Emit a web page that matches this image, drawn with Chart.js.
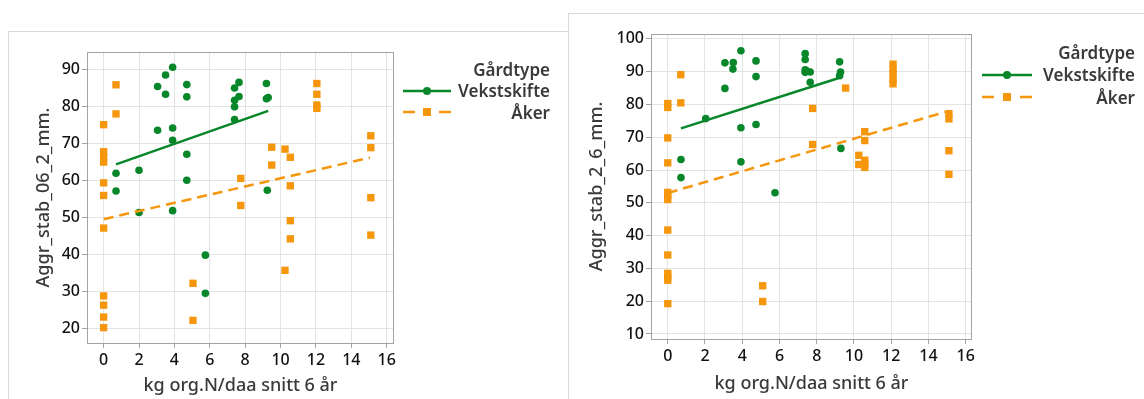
<!DOCTYPE html>
<html lang="no">
<head>
<meta charset="UTF-8">
<title>Aggregatstabilitet mot organisk N</title>
<script src="https://cdn.jsdelivr.net/npm/chart.js"></script>
<style>
    html, body { margin: 0; padding: 0; background: #fff; }
    body { width: 1144px; height: 399px; position: relative; overflow: hidden; }
    .panel { position: absolute; border-top: 1px solid #d9d9d9; border-left: 1px solid #d9d9d9; box-sizing: border-box; }
    #panelA { left: 8px; top: 31px; width: 561px; height: 368px; }
    #panelB { left: 568px; top: 13px; width: 576px; height: 386px; }
    canvas { position: absolute; left: 0; top: 0; }
</style>
</head>
<body>
<div class="panel" id="panelA"></div>
<div class="panel" id="panelB"></div>
<canvas id="chart06"></canvas>
<canvas id="chart26"></canvas>

<script>
// Aggr_stab_06_2_mm.
const vekstX06 = [0.7, 0.7, 2.0, 2.0, 3.05, 3.5, 3.5, 3.9, 3.05, 3.9, 3.9, 3.9, 4.7, 4.7, 4.7, 4.7,
    5.75, 5.75, 7.4, 7.65, 7.4, 7.65, 7.4, 7.4, 9.2, 9.2, 9.3, 9.25];
const vekstY06 = [62.0, 57.2, 62.8, 51.4, 85.4, 88.5, 83.3, 90.6, 73.6, 74.2, 70.9, 51.9, 85.9, 82.6, 67.1, 60.1,
    39.9, 29.6, 85.0, 86.5, 81.7, 82.7, 79.9, 76.5, 86.2, 82.1, 82.4, 57.4];
const akerX06 = [0, 0, 0, 0, 0, 0, 0, 0, 0, 0, 0, 0.7, 0.7, 5.05, 5.05, 7.75, 7.75, 9.5, 9.5,
    10.25, 10.25, 10.55, 10.55, 10.55, 10.55, 12.05, 12.05, 12.05, 12.05, 15.1, 15.1, 15.1, 15.1];
const akerY06 = [75.1, 67.8, 66.4, 65.0, 59.4, 56.0, 47.2, 28.9, 26.4, 23.2, 20.35, 85.85, 78.0, 32.3, 22.3, 60.6, 53.3, 69.0, 64.2,
    68.5, 35.8, 66.3, 58.6, 49.2, 44.3, 86.2, 83.3, 80.4, 79.5, 72.1, 68.9, 55.4, 45.3];
const vekstFitX06 = [0.7, 9.3];
const vekstFitY06 = [64.4, 78.8];
const akerFitX06 = [0, 15.05];
const akerFitY06 = [49.6, 66.2];
const yTicks06 = [20, 30, 40, 50, 60, 70, 80, 90];

// Aggr_stab_2_6_mm.
const vekstX26 = [0.71, 0.71, 2.04, 3.07, 3.07, 3.52, 3.5, 3.93, 3.93, 3.93, 4.74, 4.74, 4.74, 5.76,
    7.38, 7.38, 7.38, 7.38, 7.45, 7.65, 7.65, 9.23, 9.28, 9.23, 9.3];
const vekstY26 = [63.2, 57.7, 75.7, 92.7, 84.9, 92.8, 90.8, 96.4, 72.9, 62.5, 93.3, 88.5, 73.9, 53.1,
    95.5, 93.7, 90.6, 89.8, 90.3, 89.9, 86.8, 93.0, 89.9, 88.8, 66.6];
const akerX26 = [0, 0, 0, 0, 0, 0, 0, 0, 0, 0, 0, 0, 0, 0.7, 0.7, 5.1, 5.1, 7.78, 7.78, 9.55,
    10.26, 10.26, 10.58, 10.58, 10.58, 10.58, 10.58, 12.1, 12.1, 12.1, 12.1, 12.1, 15.1, 15.1, 15.1, 15.1];
const akerY26 = [80.3, 79.1, 69.8, 62.2, 53.2, 52.2, 51.0, 41.7, 34.1, 28.5, 27.4, 26.4, 19.25, 89.1, 80.5, 24.7, 19.9, 78.8, 67.8, 85.0,
    64.5, 61.7, 71.7, 69.0, 63.0, 61.9, 60.8, 92.3, 90.8, 89.3, 87.8, 86.3, 77.2, 75.6, 65.9, 58.7];
const vekstFitX26 = [0.71, 9.15];
const vekstFitY26 = [72.7, 88.0];
const akerFitX26 = [0, 14.9];
const akerFitY26 = [53.0, 77.7];
const yTicks26 = [10, 20, 30, 40, 50, 60, 70, 80, 90, 100];

const xTicks = [0, 2, 4, 6, 8, 10, 12, 14, 16];
const groups = ['Vekstskifte', 'Åker'];
const legendTitle = 'Gårdtype';
const xTitle = 'kg org.N/daa snitt 6 år';

const GREEN = '#08862a';
const ORANGE = '#f5960c';
const FONT = '"Noto Sans", "Open Sans", sans-serif';

const W = 1144, H = 399;

function pts(xs, ys) {
    return xs.map((x, i) => ({ x: x, y: ys[i] }));
}

// plot frame, axis titles and the legend on the right
const decor = {
    id: 'decor',
    afterDraw(chart, args, o) {
        const ctx = chart.ctx;
        const a = chart.chartArea;
        ctx.save();
        ctx.strokeStyle = '#a3a3a3';
        ctx.lineWidth = 1;
        ctx.strokeRect(Math.round(a.left) + 0.5, Math.round(a.top) + 0.5,
            Math.round(a.right - a.left) - 1, Math.round(a.bottom - a.top));

        ctx.fillStyle = '#3a3a3a';
        ctx.font = '500 18px ' + FONT;
        ctx.textAlign = 'center';
        ctx.textBaseline = 'middle';
        ctx.fillText(xTitle, (a.left + a.right) / 2, o.xTitleY);
        ctx.save();
        ctx.translate(o.yTitleX, (a.top + a.bottom) / 2);
        ctx.rotate(-Math.PI / 2);
        ctx.fillText(o.yTitle, 0, 0);
        ctx.restore();

        // legend
        const lg = o.legend;
        ctx.font = '600 17px ' + FONT;
        ctx.textAlign = 'right';
        ctx.fillText(legendTitle, lg.textRight, lg.y0);
        ctx.fillText(groups[0], lg.textRight, lg.y0 + lg.gap);
        ctx.fillText(groups[1], lg.textRight, lg.y0 + 2 * lg.gap + 1);

        const mid = (lg.lineLeft + lg.lineRight) / 2;
        let y = lg.y0 + lg.gap - 1;
        ctx.strokeStyle = GREEN;
        ctx.lineWidth = 2.5;
        ctx.beginPath();
        ctx.moveTo(lg.lineLeft, y);
        ctx.lineTo(lg.lineRight, y);
        ctx.stroke();
        ctx.fillStyle = GREEN;
        ctx.beginPath();
        ctx.arc(mid, y, 4, 0, Math.PI * 2);
        ctx.fill();

        y = lg.y0 + 2 * lg.gap - 1;
        ctx.strokeStyle = ORANGE;
        ctx.beginPath();
        ctx.moveTo(lg.lineLeft, y);
        ctx.lineTo(lg.lineLeft + 12, y);
        ctx.moveTo(lg.lineRight - 12, y);
        ctx.lineTo(lg.lineRight, y);
        ctx.stroke();
        ctx.fillStyle = ORANGE;
        ctx.fillRect(mid - 4, y - 4, 8, 8);
        ctx.restore();
    }
};

function makeChart(id, s) {
    const canvas = document.getElementById(id);
    canvas.width = W;
    canvas.height = H;
    return new Chart(canvas, {
        type: 'scatter',
        data: {
            datasets: [
                {
                    label: groups[0] + ' fit', data: pts(s.vfx, s.vfy), showLine: true,
                    borderColor: GREEN, borderWidth: 2.5, pointRadius: 0, order: 0
                },
                {
                    label: groups[1] + ' fit', data: pts(s.afx, s.afy), showLine: true,
                    borderColor: ORANGE, borderWidth: 2.5, borderDash: [10, 6], pointRadius: 0, order: 1
                },
                {
                    label: groups[0], data: pts(s.vx, s.vy), pointStyle: 'circle',
                    pointRadius: 3.8, backgroundColor: GREEN, borderWidth: 0, order: 2
                },
                {
                    label: groups[1], data: pts(s.ax, s.ay), pointStyle: 'rect',
                    pointRadius: 5.2, backgroundColor: ORANGE, borderWidth: 0, order: 3
                }
            ]
        },
        options: {
            responsive: false,
            animation: false,
            events: [],
            layout: { autoPadding: false, padding: s.padding },
            plugins: {
                legend: { display: false },
                tooltip: { enabled: false },
                decor: s.decor
            },
            scales: {
                x: {
                    type: 'linear', min: s.xMin, max: s.xMax,
                    afterBuildTicks: sc => { sc.ticks = xTicks.map(v => ({ value: v })); },
                    afterFit: sc => { sc.height = 30; },
                    grid: { color: '#e4e4e4', tickColor: '#a3a3a3', tickLength: 5 },
                    border: { display: false },
                    ticks: { color: '#111', padding: 3, font: { family: FONT, size: 16, weight: '500' } }
                },
                y: {
                    type: 'linear', min: s.yMin, max: s.yMax,
                    afterBuildTicks: sc => { sc.ticks = s.yTicks.map(v => ({ value: v })); },
                    afterFit: sc => { sc.width = 50; },
                    grid: { color: '#e4e4e4', tickColor: '#a3a3a3', tickLength: 5 },
                    border: { display: false },
                    ticks: { color: '#111', padding: 2, font: { family: FONT, size: 16, weight: '500' } }
                }
            }
        },
        plugins: [decor]
    });
}

makeChart('chart06', {
    vx: vekstX06, vy: vekstY06, ax: akerX06, ay: akerY06,
    vfx: vekstFitX06, vfy: vekstFitY06, afx: akerFitX06, afy: akerFitY06,
    yTicks: yTicks06, xMin: -0.94, xMax: 16.41, yMin: 16.2, yMax: 94.7,
    padding: { left: 37, top: 52, right: W - 394, bottom: H - 343 - 30 },
    decor: {
        yTitle: 'Aggr_stab_06_2_mm.', yTitleX: 44, xTitleY: 386,
        legend: { textRight: 550, y0: 71, gap: 21, lineLeft: 403, lineRight: 451 }
    }
});

makeChart('chart26', {
    vx: vekstX26, vy: vekstY26, ax: akerX26, ay: akerY26,
    vfx: vekstFitX26, vfy: vekstFitY26, afx: akerFitX26, afy: akerFitY26,
    yTicks: yTicks26, xMin: -0.9, xMax: 16.34, yMin: 8.47, yMax: 101.5,
    padding: { left: 601, top: 34, right: W - 972, bottom: H - 339 - 30 },
    decor: {
        yTitle: 'Aggr_stab_2_6_mm.', yTitleX: 597, xTitleY: 384,
        legend: { textRight: 1135, y0: 54, gap: 22, lineLeft: 982, lineRight: 1032 }
    }
});
</script>
</body>
</html>
